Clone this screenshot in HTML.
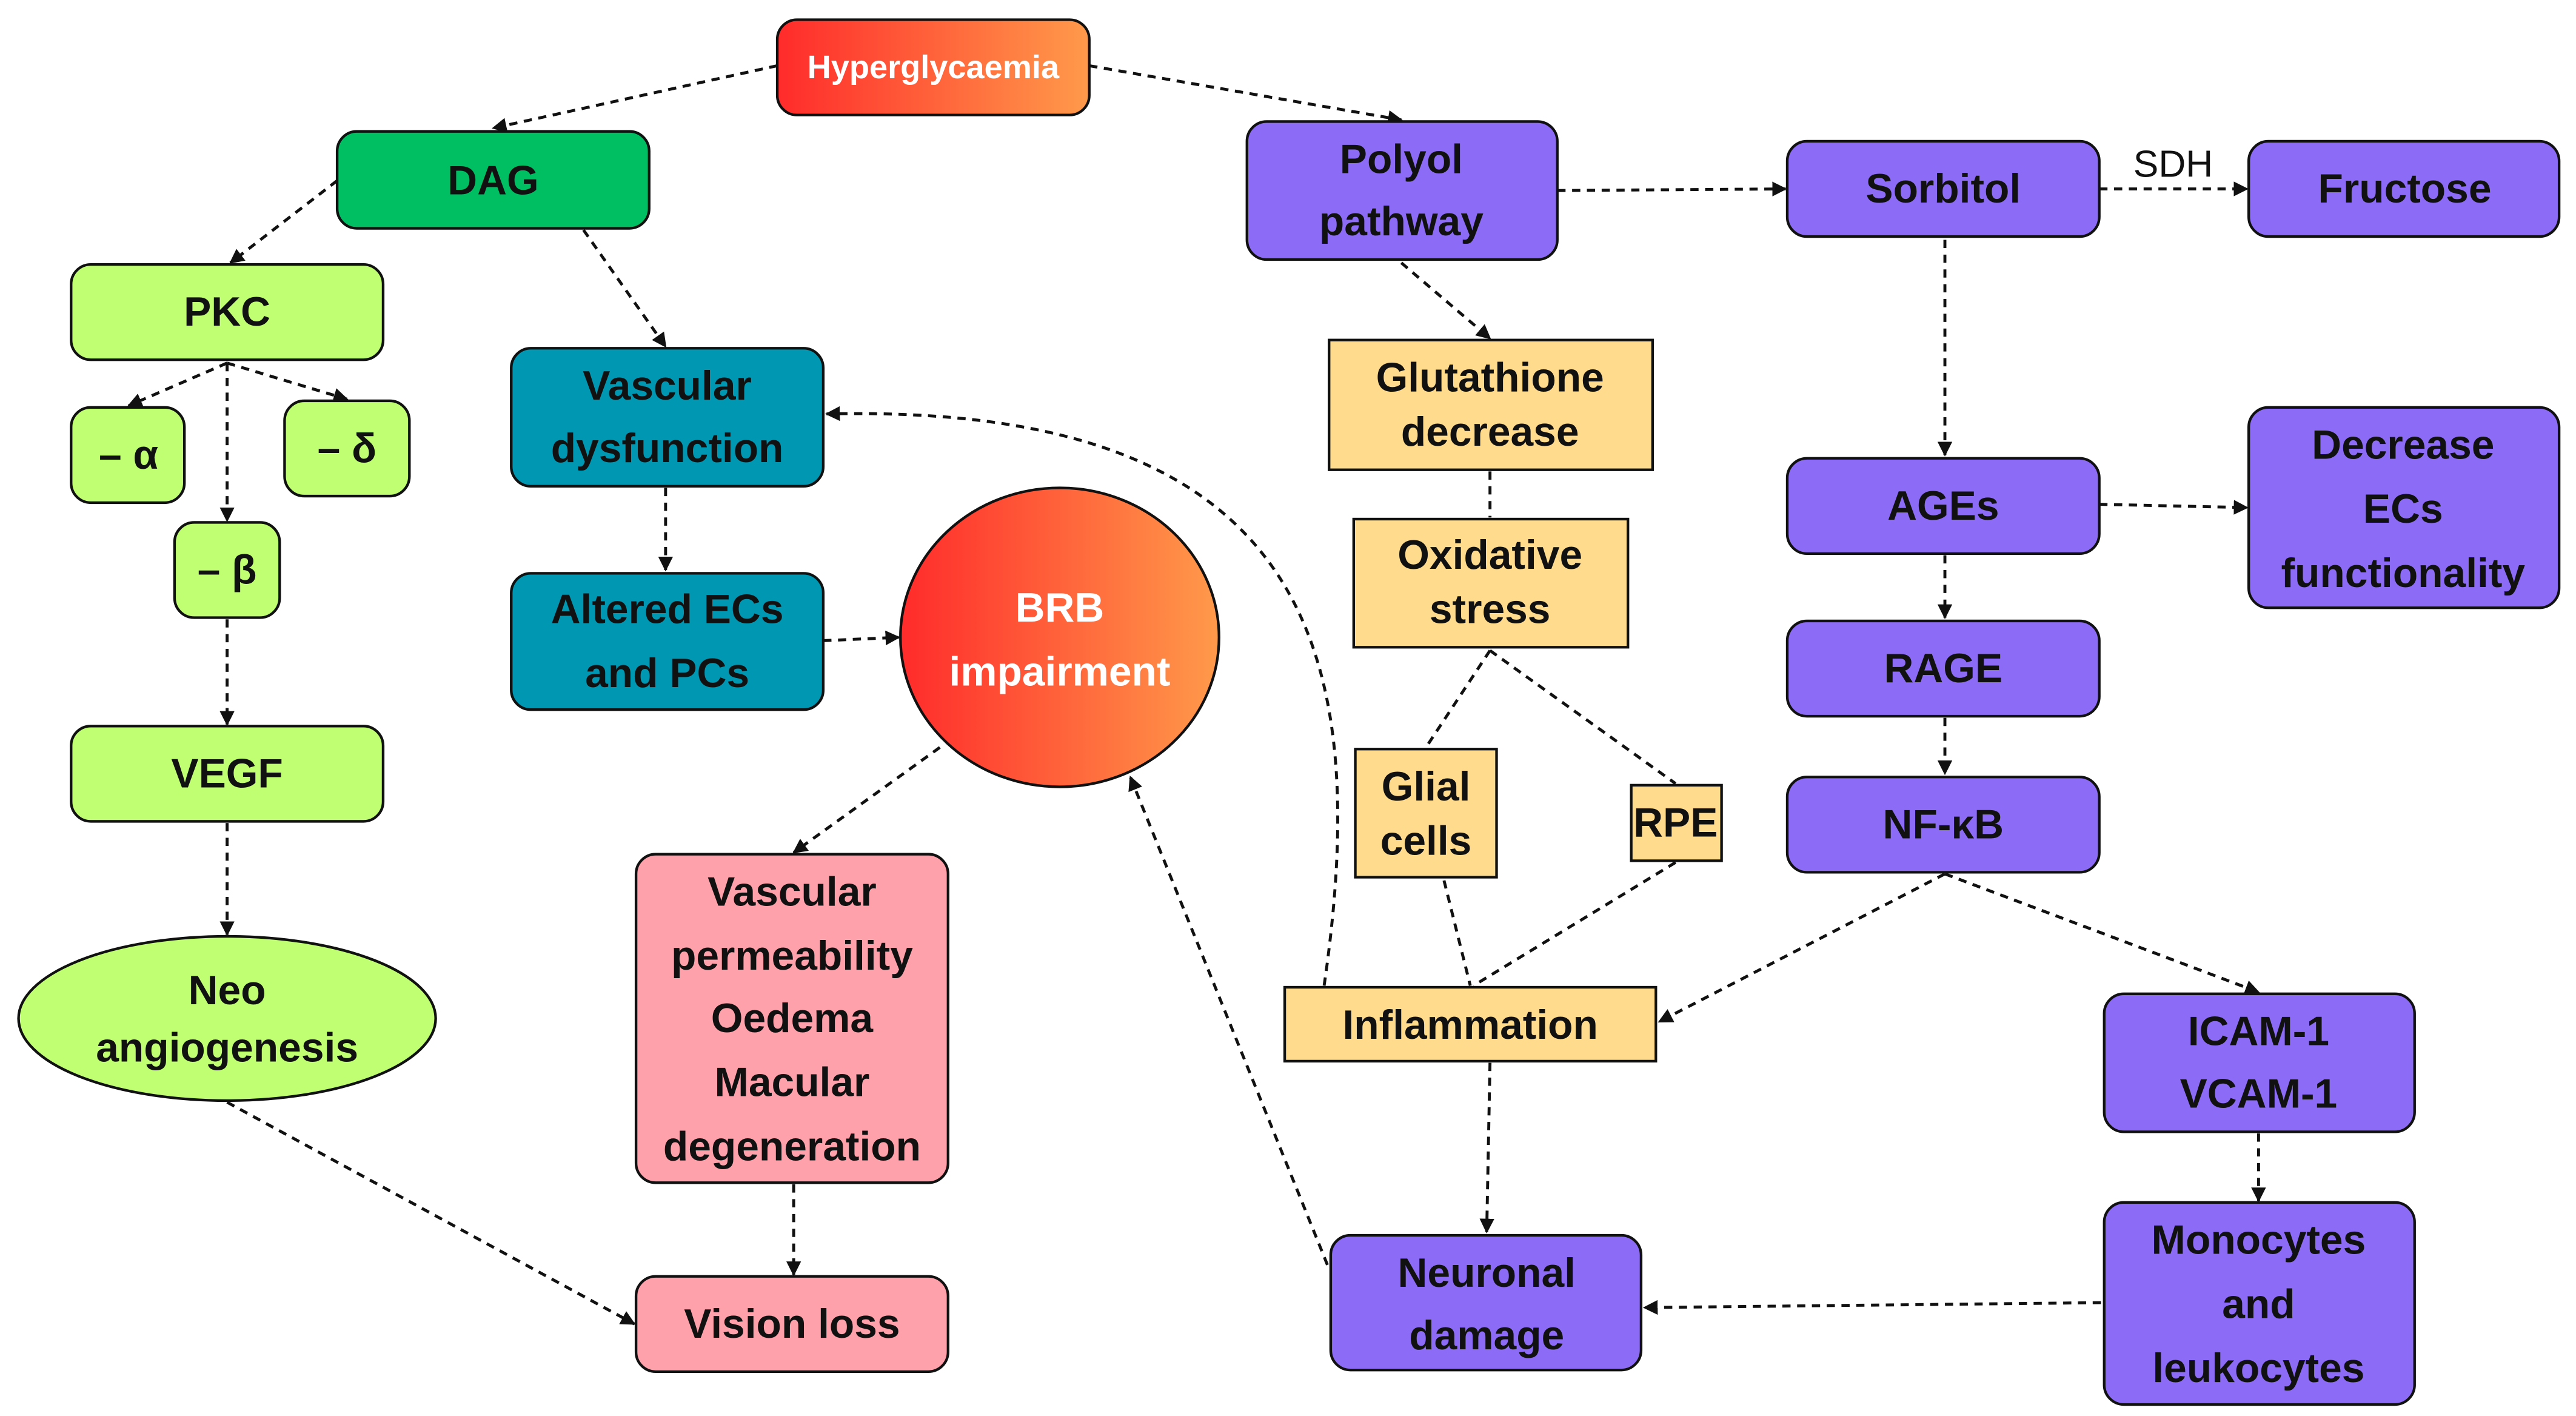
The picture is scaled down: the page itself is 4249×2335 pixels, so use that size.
<!DOCTYPE html>
<html><head><meta charset="utf-8"><style>
html,body{margin:0;padding:0;background:#fff;}
svg{display:block;width:4249px;height:2335px;}
text{font-family:"Liberation Sans",sans-serif;font-weight:bold;font-size:25px;fill:#111;text-anchor:middle;dominant-baseline:central;}
.w{fill:#fff;}
.l{fill:none;stroke:#111;stroke-width:1.8;stroke-dasharray:5,4;}
.a{marker-end:url(#m);}
.b{stroke:#111;stroke-width:1.6;}
</style></head><body>
<svg viewBox="0 0 1568 862" xmlns="http://www.w3.org/2000/svg">
<defs>
<marker id="m" viewBox="0 0 10 10" refX="9" refY="5" markerWidth="5" markerHeight="5" orient="auto-start-reverse"><path d="M0,0L10,5L0,10z" fill="#111"/></marker>
<linearGradient id="g" x1="0" x2="1"><stop offset="0" stop-color="#ff2b2b"/><stop offset="1" stop-color="#ff9a4a"/></linearGradient>
</defs>
<!-- connectors -->
<path class="l a" d="M473,40L300,78"/>
<path class="l a" d="M663,40L853,73"/>
<path class="l a" d="M205,110L140,160"/>
<path class="l a" d="M355,140L405,211"/>
<path class="l a" d="M138,221L78,247"/>
<path class="l a" d="M138,221L138,317"/>
<path class="l a" d="M138,221L211,243"/>
<path class="l a" d="M138,377L138,441"/>
<path class="l a" d="M138,501L138,569"/>
<path class="l a" d="M138,671L386,806"/>
<path class="l a" d="M405,297L405,347"/>
<path class="l a" d="M501,390L547,388"/>
<path class="l a" d="M572,455L483,519"/>
<path class="l a" d="M483,721L483,776"/>
<path class="l a" d="M948,116L1087,115"/>
<path class="l a" d="M853,160L907,206"/>
<path class="l" d="M907,287L907,315"/>
<path class="l" d="M907,396L868,455"/>
<path class="l" d="M907,396L1020,477"/>
<path class="l" d="M879,536L895,600"/>
<path class="l" d="M1020,525L897,600"/>
<path class="l a" d="M806,600C835,400 800,245 503,252"/>
<path class="l a" d="M907,647L905,750"/>
<path class="l a" d="M808,770L688,473"/>
<path class="l a" d="M1278,115L1368,115"/>
<path class="l a" d="M1184,146L1184,277"/>
<path class="l a" d="M1278,307L1368,309"/>
<path class="l a" d="M1184,338L1184,376"/>
<path class="l a" d="M1184,437L1184,471"/>
<path class="l a" d="M1184,532L1010,622"/>
<path class="l a" d="M1184,532L1375,604"/>
<path class="l a" d="M1375,690L1375,731"/>
<path class="l a" d="M1279,793L1001,796"/>
<!-- nodes -->
<rect class="b" x="473" y="12" width="190" height="58" rx="12" fill="url(#g)"/><text class="w" x="568" y="41" style="font-size:20px">Hyperglycaemia</text>
<rect class="b" x="205" y="80" width="190" height="59" rx="12" fill="#00bf63"/><text x="300" y="110">DAG</text>
<rect class="b" x="43" y="161" width="190" height="58" rx="12" fill="#c1ff72"/><text x="138" y="190">PKC</text>
<rect class="b" x="43" y="248" width="69" height="58" rx="12" fill="#c1ff72"/><text x="78" y="277">– α</text>
<rect class="b" x="173" y="244" width="76" height="58" rx="12" fill="#c1ff72"/><text x="211" y="273">– δ</text>
<rect class="b" x="106" y="318" width="64" height="58" rx="12" fill="#c1ff72"/><text x="138" y="347">– β</text>
<rect class="b" x="43" y="442" width="190" height="58" rx="12" fill="#c1ff72"/><text x="138" y="471">VEGF</text>
<ellipse class="b" cx="138" cy="620" rx="127" ry="50" fill="#c1ff72"/><text x="138" y="603">Neo</text><text x="138" y="638">angiogenesis</text>
<rect class="b" x="311" y="212" width="190" height="84" rx="12" fill="#0097b2"/><text x="406" y="235">Vascular</text><text x="406" y="273">dysfunction</text>
<rect class="b" x="311" y="349" width="190" height="83" rx="12" fill="#0097b2"/><text x="406" y="371">Altered ECs</text><text x="406" y="410">and PCs</text>
<ellipse class="b" cx="645" cy="388" rx="97" ry="91" fill="url(#g)"/><text class="w" x="645" y="370">BRB</text><text class="w" x="645" y="409">impairment</text>
<rect class="b" x="387" y="520" width="190" height="200" rx="12" fill="#ffa1ab"/>
<text x="482" y="543">Vascular</text><text x="482" y="582">permeability</text><text x="482" y="620">Oedema</text><text x="482" y="659">Macular</text><text x="482" y="698">degeneration</text>
<rect class="b" x="387" y="777" width="190" height="58" rx="12" fill="#ffa1ab"/><text x="482" y="806">Vision loss</text>
<rect class="b" x="759" y="74" width="189" height="84" rx="12" fill="#8c6cf6"/><text x="853" y="97">Polyol</text><text x="853" y="135">pathway</text>
<rect class="b" x="809" y="207" width="197" height="79" fill="#ffdb8d"/><text x="907" y="230">Glutathione</text><text x="907" y="263">decrease</text>
<rect class="b" x="824" y="316" width="167" height="78" fill="#ffdb8d"/><text x="907" y="338">Oxidative</text><text x="907" y="371">stress</text>
<rect class="b" x="825" y="456" width="86" height="78" fill="#ffdb8d"/><text x="868" y="479">Glial</text><text x="868" y="512">cells</text>
<rect class="b" x="993" y="478" width="55" height="46" fill="#ffdb8d"/><text x="1020" y="501">RPE</text>
<rect class="b" x="782" y="601" width="226" height="45" fill="#ffdb8d"/><text x="895" y="624">Inflammation</text>
<rect class="b" x="810" y="752" width="189" height="82" rx="12" fill="#8c6cf6"/><text x="905" y="775">Neuronal</text><text x="905" y="813">damage</text>
<rect class="b" x="1088" y="86" width="190" height="58" rx="12" fill="#8c6cf6"/><text x="1183" y="115">Sorbitol</text>
<text x="1323" y="100" style="font-weight:normal;font-size:23px">SDH</text>
<rect class="b" x="1369" y="86" width="189" height="58" rx="12" fill="#8c6cf6"/><text x="1464" y="115">Fructose</text>
<rect class="b" x="1088" y="279" width="190" height="58" rx="12" fill="#8c6cf6"/><text x="1183" y="308">AGEs</text>
<rect class="b" x="1369" y="248" width="189" height="122" rx="12" fill="#8c6cf6"/><text x="1463" y="271">Decrease</text><text x="1463" y="310">ECs</text><text x="1463" y="349">functionality</text>
<rect class="b" x="1088" y="378" width="190" height="58" rx="12" fill="#8c6cf6"/><text x="1183" y="407">RAGE</text>
<rect class="b" x="1088" y="473" width="190" height="58" rx="12" fill="#8c6cf6"/><text x="1183" y="502">NF-κB</text>
<rect class="b" x="1281" y="605" width="189" height="84" rx="12" fill="#8c6cf6"/><text x="1375" y="628">ICAM-1</text><text x="1375" y="666">VCAM-1</text>
<rect class="b" x="1281" y="732" width="189" height="123" rx="12" fill="#8c6cf6"/><text x="1375" y="755">Monocytes</text><text x="1375" y="794">and</text><text x="1375" y="833">leukocytes</text>
</svg>
</body></html>
